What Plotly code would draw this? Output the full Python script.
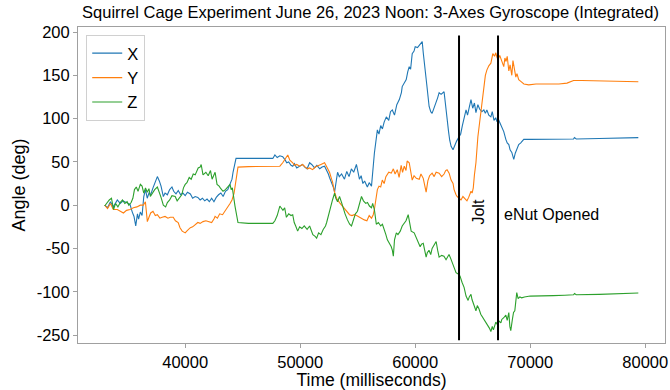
import plotly.graph_objects as go

# Integrated gyroscope angles, time in milliseconds, angle in degrees
t_x = [33000, 33250, 33500, 33750, 34100, 34350, 34600, 34900, 35200, 35400, 35550, 35700, 35850, 35950,
       36100, 36250, 36400, 36550, 36700, 36850, 37000, 37200, 37400, 37580, 37750, 37900, 38100, 38250,
       38450, 38650, 38850, 39000, 39200, 39400, 39600, 39800, 40000, 40200, 40450, 40650, 40870, 41100,
       41300, 41500, 41700, 41900, 42100, 42300, 42500, 42700, 42900, 43100, 43300, 43500, 43700, 43900,
       44070, 44160, 44330, 44420, 45000, 46000, 47000, 47620, 47800, 48000, 48230, 48480, 48700, 48830,
       49000, 49200, 49350, 49500, 49700, 49950, 50200, 50400, 50600, 50820, 51000, 51250, 51450, 51700,
       51900, 52120, 52290, 52450, 52550, 52730, 52900, 52990, 53100, 53250, 53400, 53600, 53850, 54050,
       54250, 54450, 54650, 54890, 55000, 55150, 55300, 55450, 55600, 55840, 56000, 56200, 56450, 56620,
       56710, 56850, 57000, 57150, 57300, 57490, 57700, 57850, 58010, 58200, 58400, 58620, 58800, 58870,
       59050, 59220, 59350, 59480, 59600, 59740, 59900, 60000, 60200, 60350, 60500, 60610, 60700, 60780,
       60900, 61000, 61210, 61350, 61470, 61650, 61800, 61950, 62080, 62250, 62510, 62650, 62770, 62900,
       63000, 63120, 63290, 63450, 63600, 63810, 63950, 64100, 64250, 64420, 64550, 64700, 64850, 65000,
       65150, 65280, 65450, 65600, 65800, 65970, 66100, 66230, 66400, 66580, 66700, 66850, 67000, 67100,
       67270, 67400, 67530, 67700, 67880, 68000, 68140, 68250, 68400, 68500, 68570, 68700, 68850, 69000,
       69180, 69440, 70000, 71000, 72000, 73000, 73770, 73850, 74000, 76000, 78000, 79400]
x_deg = [0, -3, 4, -2, 6, 2, 5, 3, 1, -8, -13, -24, -10, -16,
         -8, -12, 10, 18, 8, 14, 12, 20, 28, 33, 28, 22, 10, 14,
         12, 18, 21, 16, 13, 17, 12, 14, 11, 15, 13, 8, 10, 9,
         6, 8, 5, 7, 4, 8, 4, 9, 12, 14, 10, 16, 18, 24,
         30, 38, 50, 54, 54, 54, 54.5, 54, 58, 55, 57, 56, 52, 49,
         50, 46, 45, 48, 43, 45, 47, 44, 42, 49, 47, 43, 46, 42,
         44, 45, 41, 36, 32, 26, 20, 15, 28, 38, 33, 36, 30, 39,
         33, 42, 38, 47, 40, 30, 34, 25, 28, 21, 26, 22, 60, 80,
         87, 82, 92, 88, 96, 102, 98, 108, 110, 104, 116, 122, 130, 137,
         142, 145, 154, 160, 157, 175, 178, 183, 182, 185, 187, 189, 176, 168,
         150, 140, 114, 108, 106, 112, 118, 124, 130, 128, 131, 112, 98, 85,
         75, 68, 64, 70, 74, 79, 82, 92, 100, 110, 104, 114, 122, 112,
         118, 107, 116, 111, 108, 110, 106, 110, 104, 102, 108, 98, 101, 97,
         98, 94, 90, 85, 76, 72, 70, 64, 61, 55, 53, 60, 66, 70,
         72, 76, 76, 76, 76.5, 76, 76.5, 78, 76.5, 77, 77.5, 78]

t_y = [33000, 33250, 33500, 33750, 34100, 34350, 34630, 34900, 35200, 35500, 35800, 36100, 36360, 36540,
       36710, 36850, 37000, 37200, 37400, 37580, 37800, 38000, 38250, 38500, 38700, 38960, 39150, 39390,
       39550, 39740, 40000, 40200, 40450, 40650, 40870, 41100, 41300, 41550, 41800, 42050, 42300, 42500,
       42600, 42800, 43000, 43250, 43500, 43720, 43900, 44070, 44250, 44330, 44590, 45500, 46500, 47500,
       48230, 48480, 48700, 48920, 49100, 49350, 49500, 49700, 49960, 50200, 50450, 50650, 50820, 51080,
       51300, 51550, 51800, 52120, 52300, 52550, 52730, 52810, 52990, 53160, 53420, 53600, 53850, 54100,
       54290, 54500, 54700, 54900, 55150, 55350, 55580, 55800, 56000, 56200, 56350, 56450, 56600, 56710,
       56850, 57000, 57140, 57300, 57450, 57580, 57700, 57920, 58100, 58250, 58440, 58600, 58780, 58900,
       59050, 59200, 59300, 59480, 59600, 59740, 59900, 60100, 60350, 60500, 60700, 60950, 61100, 61250,
       61470, 61650, 61820, 62080, 62300, 62510, 62650, 62770, 62950, 63120, 63290, 63380, 63550, 63640,
       63810, 63980, 64150, 64300, 64500, 64650, 64850, 64950, 65050, 65150, 65280, 65450, 65600, 65710,
       65850, 65970, 66100, 66230, 66400, 66580, 66700, 66750, 66900, 67010, 67100, 67200, 67350, 67530,
       67700, 67800, 67900, 68000, 68140, 68250, 68400, 68500, 68600, 68750, 68850, 69000, 69180, 69450,
       69870, 70500, 71500, 72500, 73200, 73770, 74500, 76000, 78000, 79400]
y_deg = [0, -4, 2, -5, -5, -7, -9, -6, -5, -3, -2, 0, 0, 4,
         -19, -14, -9, -7, -12, -11, -15, -14, -13, -15, -14, -14, -18, -20,
         -26, -30, -32, -29, -26, -25, -22, -20, -21, -19, -18, -19, -20, -16,
         -13, -15, -10, -11, -6, -3, 2, 6, 14, 21, 44, 44.5, 44.5, 45,
         45, 49, 53, 58, 52, 49, 46, 47, 45, 47, 44, 42, 43, 41,
         44, 46, 47, 49, 44, 38, 30, 27, 15, 8, 3, 0, -5, -9,
         -11, -12, -11, -12, -14, -15, -17, -18, -12, -15, -11, -5, 10, 18,
         22, 21, 29, 25, 33, 35, 38, 37, 42, 36, 41, 32, 46, 38,
         45, 40, 51, 49, 38, 29, 34, 31, 30, 36, 31, 15, 28, 34,
         37, 33, 38, 37, 33, 36, 40, 41, 37, 29, 25, 18, 12, 10,
         8, 6, 10, 8, 5, 9, 16, 14, 20, 35, 49, 79, 95, 110,
         128, 141, 150, 156, 161, 164, 170, 175, 172, 176, 171, 168, 173, 165,
         160, 170, 166, 172, 155, 162, 150, 167, 158, 148, 152, 145, 143, 140,
         139, 140, 140, 140, 141, 144, 144, 143.5, 143, 142.5]

t_z = [33000, 33200, 33400, 33590, 33770, 33950, 34150, 34350, 34550, 34750, 34950, 35100, 35300, 35450,
       35590, 35750, 35900, 36100, 36250, 36400, 36550, 36700, 36850, 36970, 37150, 37350, 37580, 37750,
       37900, 38100, 38300, 38450, 38650, 38850, 39130, 39300, 39500, 39700, 39850, 40000, 40150, 40350,
       40520, 40700, 40870, 41000, 41130, 41300, 41390, 41550, 41800, 42000, 42200, 42340, 42500, 42600,
       42770, 42950, 43100, 43290, 43500, 43720, 43900, 44000, 44100, 44330, 44450, 44590, 45500, 46500,
       47620, 47800, 48000, 48230, 48350, 48500, 48650, 48800, 49000, 49200, 49350, 49480, 49610, 49780,
       49950, 50150, 50350, 50600, 50820, 51000, 51100, 51300, 51430, 51600, 51800, 52000, 52200, 52300,
       52450, 52550, 52700, 52810, 52990, 53100, 53250, 53420, 53600, 53750, 53900, 54110, 54300, 54460,
       54650, 54800, 54980, 55150, 55330, 55500, 55700, 55850, 56020, 56200, 56300, 56450, 56620, 56800,
       57000, 57150, 57320, 57450, 57580, 57750, 57920, 58010, 58100, 58200, 58360, 58500, 58700, 58870,
       59050, 59200, 59390, 59500, 59650, 59910, 60100, 60250, 60430, 60550, 60700, 60950, 61050, 61200,
       61350, 61470, 61650, 61820, 61950, 62080, 62300, 62500, 62680, 62850, 62940, 63100, 63200, 63380,
       63550, 63810, 63900, 64070, 64250, 64420, 64600, 64700, 64850, 64940, 65100, 65280, 65400, 65550,
       65700, 65970, 66100, 66300, 66450, 66580, 66700, 66800, 67010, 67150, 67300, 67450, 67530, 67700,
       67880, 68000, 68140, 68230, 68310, 68450, 68550, 68660, 68750, 68830, 68950, 69100, 69260, 69500,
       70000, 71000, 72000, 73000, 73770, 73850, 74000, 76000, 78000, 79400]
z_deg = [-1, 3, 6, 8, -5, 2, -2, 3, 6, 2, 4, 0, 3, 8,
         18, 21, 16, 24, 22, 14, 20, 15, 19, 10, 14, 18, 21, 15,
         9, 0, -2, 3, 6, 11, 10, 5, 9, 12, 20, 24, 26, 32,
         30, 36, 35, 40, 43, 44, 47, 35, 38, 34, 40, 30, 35, 38,
         24, 22, 19, 16, 18, 22, 24, 18, 20, -1, -10, -20, -21, -21,
         -21, -18, -12, -1, -4, -6, -3, -14, -10, -12, -11, -20, -24, -30,
         -25, -27, -24, -28, -24, -30, -34, -36, -38, -32, -34, -28, -24, -20,
         -12, -5, 2, 6, 14, 8, 4, 10, 3, -4, -10, -17, -22, -24,
         -16, -10, -7, 2, 10, 5, 2, 3, -1, -3, 2, -5, -22, -20,
         -24, -22, -28, -34, -40, -44, -48, -52, -59, -40, -32, -34, -30, -24,
         -20, -18, -11, -20, -30, -32, -38, -44, -48, -45, -44, -60, -55, -52,
         -57, -50, -46, -42, -52, -60, -58, -59, -63, -58, -57, -62, -66, -72,
         -78, -80, -82, -89, -95, -105, -110, -106, -103, -109, -115, -122, -116, -120,
         -126, -132, -134, -138, -142, -146, -140, -144, -135, -138, -134, -136, -132, -130,
         -127, -133, -124, -140, -145, -132, -124, -122, -110, -101, -108, -106, -107, -106,
         -105, -105, -104.5, -104, -103.5, -102, -103.5, -103, -102, -101.5]

# Event markers (ms) and their labels
jolt_ms = 63810
enut_ms = 67200
event_span = [-156, 196]

y_tickvals = [-150, -100, -50, 0, 50, 100, 150, 200]
y_ticktext = ["-250", "-100", "-50", "0", "50", "100", "150", "200"]
x_tickvals = [40000, 50000, 60000, 70000, 80000]
x_ticktext = ["40000", "50000", "60000", "70000", "80000"]

font_family = "Liberation Sans, Arial, sans-serif"

fig = go.Figure()
fig.add_trace(go.Scatter(x=t_x, y=x_deg, mode="lines", name="X",
                         line=dict(color="#1f77b4", width=1.1)))
fig.add_trace(go.Scatter(x=t_y, y=y_deg, mode="lines", name="Y",
                         line=dict(color="#ff7f0e", width=1.1)))
fig.add_trace(go.Scatter(x=t_z, y=z_deg, mode="lines", name="Z",
                         line=dict(color="#2ca02c", width=1.1)))

for xv in (jolt_ms, enut_ms):
    fig.add_shape(type="line", xref="x", yref="y", x0=xv, x1=xv,
                  y0=event_span[0], y1=event_span[1],
                  line=dict(color="black", width=2))

fig.add_annotation(x=65500, y=-8, xref="x", yref="y", text="Jolt", textangle=-90,
                   showarrow=False, font=dict(size=16, color="black", family=font_family))
fig.add_annotation(x=67550, y=-11, xref="x", yref="y", text="eNut Opened", xanchor="left",
                   showarrow=False, font=dict(size=16, color="black", family=font_family))

axis_common = dict(showline=True, mirror=True, linecolor="#a0a0a0", linewidth=1,
                   ticks="outside", ticklen=4, tickcolor="#a0a0a0", showgrid=False,
                   zeroline=False, tickfont=dict(size=16.5, color="black", family=font_family))

fig.update_layout(
    width=670, height=390,
    margin=dict(l=78, r=2, t=27, b=46),
    paper_bgcolor="white", plot_bgcolor="white",
    font=dict(family=font_family, color="black"),
    title=dict(text="Squirrel Cage Experiment June 26, 2023 Noon: 3-Axes Gyroscope (Integrated)",
               x=0.553, xanchor="center", y=0.968, yanchor="middle",
               font=dict(size=16.5, color="black", family=font_family)),
    xaxis=dict(range=[30680, 81720], tickvals=x_tickvals, ticktext=x_ticktext,
               ticklabeloverflow="allow",
               title=dict(text="Time (milliseconds)", font=dict(size=17.5, family=font_family), standoff=5),
               **axis_common),
    yaxis=dict(range=[-159.2, 205.8], tickvals=y_tickvals, ticktext=y_ticktext,
               title=dict(text="Angle (deg)", font=dict(size=18, family=font_family), standoff=6),
               **axis_common),
    legend=dict(x=0.014, y=0.975, xanchor="left", yanchor="top",
                bgcolor="white", bordercolor="#d0d0d0", borderwidth=1,
                font=dict(size=16.5, color="black", family=font_family),
                tracegroupgap=0),
    showlegend=True,
)

fig.write_html("out.html")
